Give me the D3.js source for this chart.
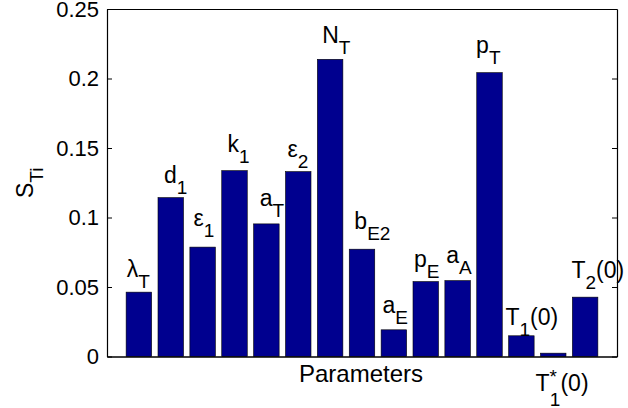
<!DOCTYPE html>
<html>
<head>
<meta charset="utf-8">
<script src="https://cdn.jsdelivr.net/npm/d3@7"></script>
<style>
  html, body { margin: 0; padding: 0; background: #fff; }
  svg { display: block; }
  text { font-family: "Liberation Sans", Arial, Helvetica, sans-serif; fill: #000; }
</style>
</head>
<body>
<svg id="chart" width="628" height="408"></svg>
<script>
// ---- data ----
const categories = ["λT","d1","ε1","k1","aT","ε2","NT","bE2","aE","pE","aA","pT","T1(0)","T1*(0)","T2(0)"];
const values = [0.0463,0.1143,0.0787,0.1337,0.0954,0.1330,0.2138,0.0772,0.0192,0.0539,0.0546,0.2042,0.0149,0.0024,0.0427];
const labelBase = ["λ","d","ε","k","a","ε","N","b","a","p","a","p","T","T","T"];
const labelSub  = ["T","1","1","1","T","2","T","E2","E","E","A","T","1","1","2"];
const labelSup  = ["","","","","","","","","","","","","","*",""];
const labelTail = ["","","","","","","","","","","","","(0)","(0)","(0)"];
// label anchors in data coordinates (like MATLAB text(x,y,...))
const labelX = [0.62,1.79,2.71,3.78,4.79,5.66,6.75,7.76,8.64,9.63,10.64,11.58,12.5,13.44,14.57];
const labelY = [0.0575,0.1246,0.094,0.147,0.108,0.1438,0.2253,0.0918,0.0312,0.0647,0.0672,0.2182,0.0228,-0.0245,0.0564];
const yTicks = [0,0.05,0.1,0.15,0.2,0.25];
const yTickLabels = ["0","0.05","0.1","0.15","0.2","0.25"];
const xTitle = "Parameters";

// ---- layout ----
const L = 107, R = 617, T = 9, B = 356.5;
const svg = d3.select("#chart");
const x = d3.scaleLinear().domain([0, 16]).range([L, R]);
const y = d3.scaleLinear().domain([0, 0.25]).range([B, T]);
const barW = 0.8;

// bars
svg.append("g").selectAll("rect").data(values).join("rect")
  .attr("x", (d, i) => x(i + 1 - barW / 2))
  .attr("width", x(barW) - x(0))
  .attr("y", d => y(d))
  .attr("height", d => y(0) - y(d))
  .attr("fill", "rgb(0,0,143)")
  .attr("stroke", "#000")
  .attr("stroke-width", 0.6);

// axes (box)
const fs = 22;
const axL = svg.append("g").attr("transform", `translate(${L},0)`)
  .call(d3.axisLeft(y).tickValues(yTicks).tickFormat((d, i) => yTickLabels[i]).tickSizeInner(-5).tickSizeOuter(0).tickPadding(8));
axL.select(".domain").attr("stroke", "#000").attr("stroke-width", 1.2);
axL.selectAll("text").style("font-size", fs + "px").style("font-family", "'Liberation Sans', Arial, sans-serif").attr("fill", "#000");
axL.selectAll("line").attr("stroke", "#000");

const axR = svg.append("g").attr("transform", `translate(${R},0)`)
  .call(d3.axisRight(y).tickValues(yTicks).tickFormat("").tickSizeInner(-5).tickSizeOuter(0));
axR.select(".domain").attr("stroke", "#000").attr("stroke-width", 1.2);
axR.selectAll("line").attr("stroke", "#000");

const axB = svg.append("g").attr("transform", `translate(0,${B})`)
  .call(d3.axisBottom(x).tickValues([]).tickSizeOuter(0));
axB.select(".domain").attr("stroke", "#000").attr("stroke-width", 1.5);
const axT = svg.append("g").attr("transform", `translate(0,${T})`)
  .call(d3.axisTop(x).tickValues([]).tickSizeOuter(0));
axT.select(".domain").attr("stroke", "#000").attr("stroke-width", 1.2);

// x title
svg.append("text").attr("x", 361).attr("y", 382)
  .attr("text-anchor", "middle").style("font-size", "24px").text(xTitle);

// y title S_Ti
const yt = svg.append("text").attr("transform", "translate(33,198) rotate(-90)")
  .style("font-size", "23px");
yt.append("tspan").text("S");
yt.append("tspan").attr("dy", 10).style("font-size", "19px").text("Ti");

// bar labels
const lfs = 23, subFs = 19, subDy = 11;
values.forEach((v, i) => {
  const t = svg.append("text").attr("x", x(labelX[i])).attr("y", y(labelY[i]))
    .style("font-size", lfs + "px");
  t.append("tspan").text(labelBase[i]);
  if (labelSup[i]) {
    t.append("tspan").attr("dy", -8).style("font-size", subFs + "px").text(labelSup[i]);
    t.append("tspan").attr("dx", -7).attr("dy", 8 + subDy + 4).style("font-size", subFs + "px").text(labelSub[i]);
    t.append("tspan").attr("dy", -(subDy + 4)).text(labelTail[i]);
  } else {
    t.append("tspan").attr("dy", subDy).style("font-size", subFs + "px").text(labelSub[i]);
    if (labelTail[i]) t.append("tspan").attr("dy", -subDy).text(labelTail[i]);
  }
});
</script>
</body>
</html>
